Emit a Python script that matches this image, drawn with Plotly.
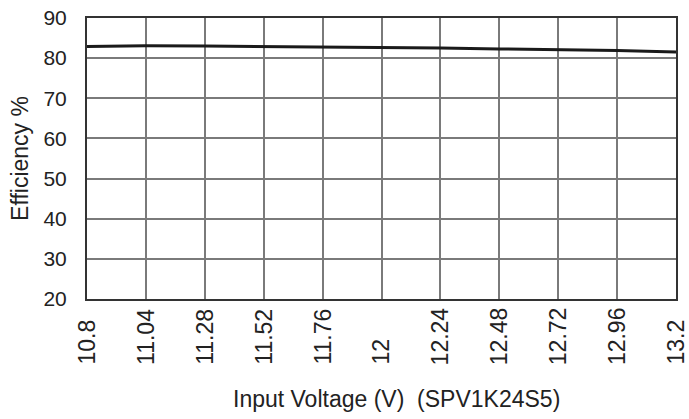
import plotly.graph_objects as go

voltage = [10.8, 11.04, 11.28, 11.52, 11.76, 12.0, 12.24, 12.48, 12.72, 12.96, 13.2]
efficiency = [82.9, 83.1, 83.0, 82.9, 82.8, 82.6, 82.5, 82.3, 82.1, 81.9, 81.5]
x_ticks = [10.8, 11.04, 11.28, 11.52, 11.76, 12.0, 12.24, 12.48, 12.72, 12.96, 13.2]
x_tick_labels = ["10.8", "11.04", "11.28", "11.52", "11.76", "12", "12.24", "12.48", "12.72", "12.96", "13.2"]
y_ticks = [20, 30, 40, 50, 60, 70, 80, 90]

FONT = "Liberation Sans, Arial, sans-serif"

fig = go.Figure()
fig.add_trace(go.Scatter(x=voltage, y=efficiency, mode="lines",
                         line=dict(color="#1a1a1a", width=3), showlegend=False))

annotations = []
for v, t in zip(x_ticks, x_tick_labels):
    annotations.append(dict(x=v, xref="x", y=-0.242, yref="paper", text=t,
                            textangle=-90, showarrow=False, xanchor="center",
                            yanchor="bottom", font=dict(family=FONT, size=23, color="#222")))
annotations.append(dict(x=0.525, xref="paper", y=-0.356, yref="paper",
                        text="Input Voltage (V)\u00a0\u00a0(SPV1K24S5)", showarrow=False,
                        xanchor="center", yanchor="middle",
                        font=dict(family=FONT, size=23, color="#222")))

fig.update_layout(
    width=689, height=419,
    margin=dict(l=87, r=13, t=18, b=120, autoexpand=False),
    paper_bgcolor="white", plot_bgcolor="white",
    annotations=annotations,
    xaxis=dict(range=[10.8, 13.2], tickvals=x_ticks, showticklabels=False, automargin=False,
               showgrid=True, gridcolor="#7a7a7a", gridwidth=2, zeroline=False,
               showline=True, linecolor="#333", linewidth=2, mirror=True, ticks=""),
    yaxis=dict(range=[20, 90], tickvals=y_ticks, showgrid=True, gridcolor="#7a7a7a",
               gridwidth=2, zeroline=False, showline=True, linecolor="#333", automargin=False,
               linewidth=2, mirror=True, ticks="", ticklabelstandoff=14,
               ticklabeloverflow="allow",
               tickfont=dict(family=FONT, size=21, color="#222"),
               title=dict(text="Efficiency %", font=dict(family=FONT, size=23, color="#222"),
                          standoff=8)),
)

fig.write_html("out.html", config={"displayModeBar": False},
               post_script="document.body.style.margin='0';document.body.style.overflow='hidden';")
